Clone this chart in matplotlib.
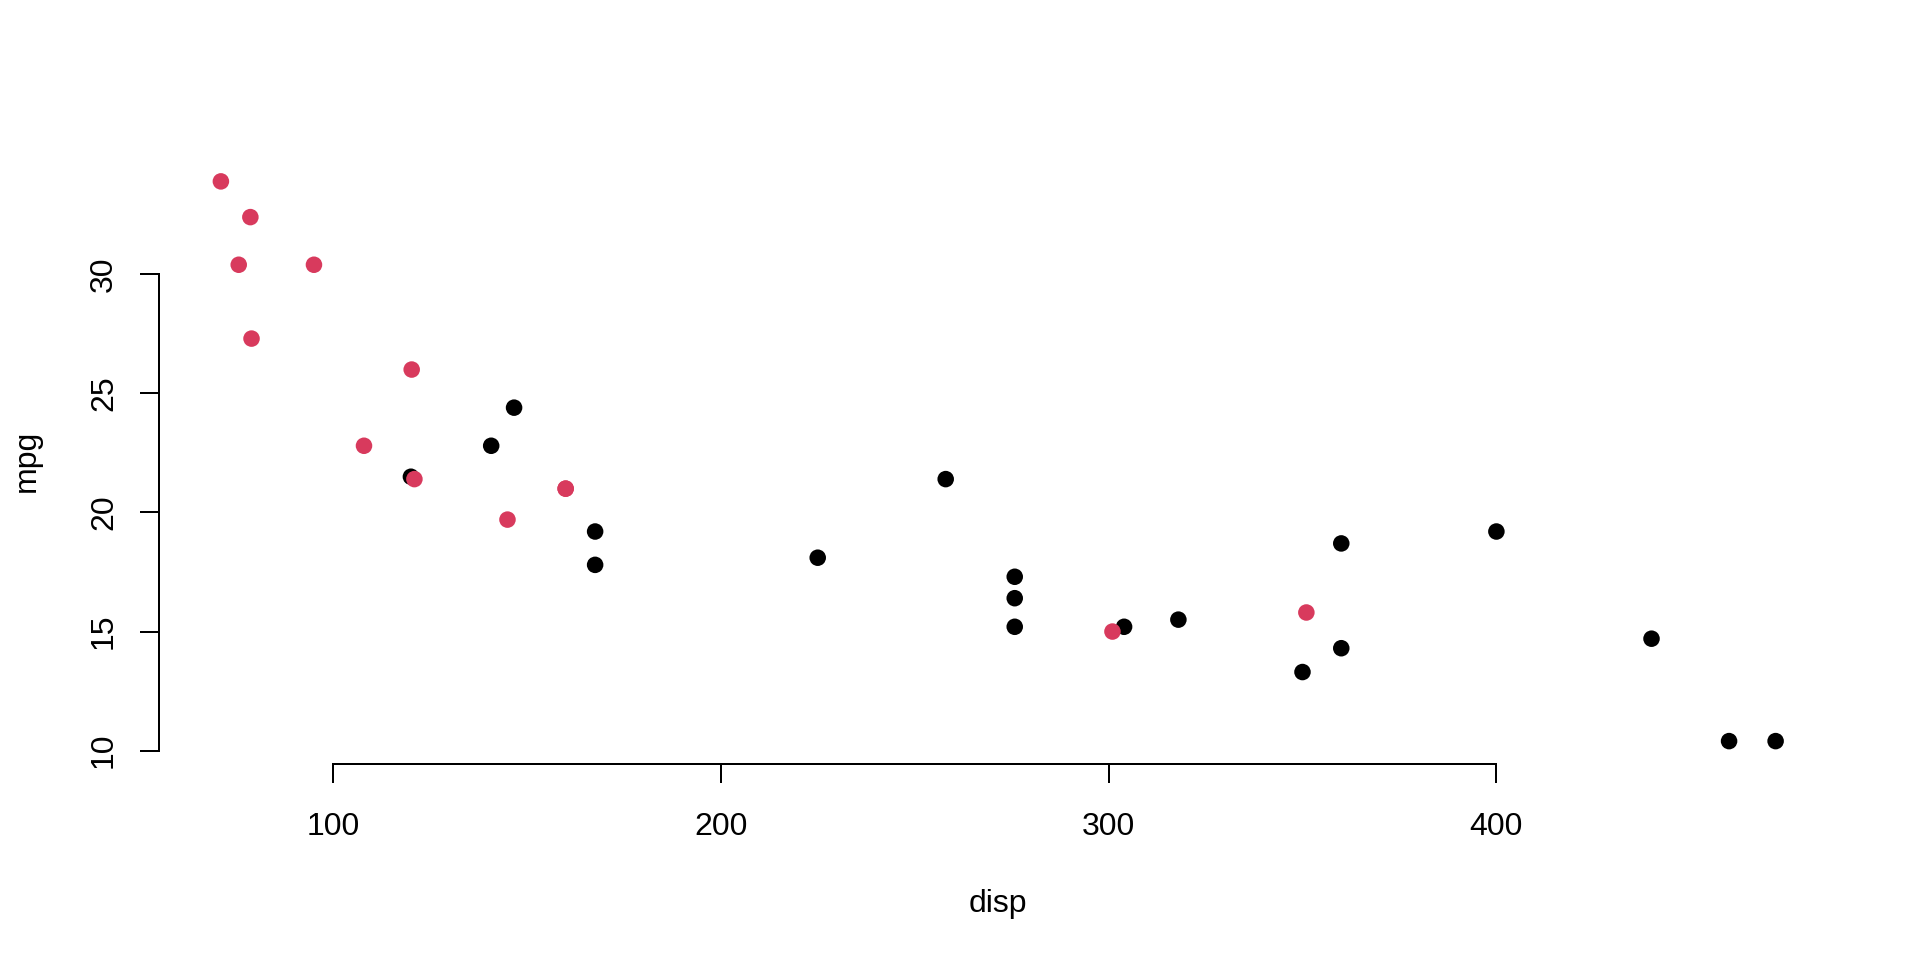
"""Dispersión mpg vs disp (mtcars), coloreada por tipo de transmisión."""

import matplotlib

matplotlib.use("Agg")
import matplotlib.pyplot as plt

# datos: disp, mpg y transmisión (am: 1 = manual)
disp = [160, 160, 108, 258, 360, 225, 360, 146.7, 140.8, 167.6, 167.6,
        275.8, 275.8, 275.8, 472, 460, 440, 78.7, 75.7, 71.1, 120.1,
        318, 304, 350, 400, 79, 120.3, 95.1, 351, 145, 301, 121]
mpg = [21.0, 21.0, 22.8, 21.4, 18.7, 18.1, 14.3, 24.4, 22.8, 19.2, 17.8,
       16.4, 17.3, 15.2, 10.4, 10.4, 14.7, 32.4, 30.4, 33.9, 21.5,
       15.5, 15.2, 13.3, 19.2, 27.3, 26.0, 30.4, 15.8, 19.7, 15.0, 21.4]
am = [1, 1, 1, 0, 0, 0, 0, 0, 0, 0, 0,
      0, 0, 0, 0, 0, 0, 1, 1, 1, 0,
      0, 0, 0, 0, 1, 1, 1, 1, 1, 1, 1]
x_ticks = [100, 200, 300, 400]
y_ticks = [10, 15, 20, 25, 30]

COLORES = {0: "black", 1: "#D83A5D"}
W, H = 1920, 960

plt.rcParams["font.family"] = ["Liberation Sans", "DejaVu Sans"]
plt.rcParams["font.size"] = 12

fig = plt.figure(figsize=(W / 192, H / 192), dpi=192)
ax = fig.add_axes([158.7 / W, 196.5 / H, (1837.8 - 158.7) / W, (763.5 - 159.0) / H])

colores = [COLORES[a] for a in am]
ax.scatter(disp, mpg, s=6.2 ** 2, c=colores, linewidths=0, zorder=3)

# rango estilo R: 4% de extensión a cada lado
rx = max(disp) - min(disp)
ry = max(mpg) - min(mpg)
ax.set_xlim(min(disp) - 0.04 * rx, max(disp) + 0.04 * rx)
ax.set_ylim(min(mpg) - 0.04 * ry, max(mpg) + 0.04 * ry)

ax.set_xticks(x_ticks)
ax.set_yticks(y_ticks)
ax.set_xticklabels([str(t) for t in x_ticks])
ax.set_yticklabels([str(t) for t in y_ticks], rotation=90, va="center", ha="right")

for lado in ("top", "right"):
    ax.spines[lado].set_visible(False)
ax.spines["bottom"].set_bounds(x_ticks[0], x_ticks[-1])
ax.spines["left"].set_bounds(y_ticks[0], y_ticks[-1])
for lado in ("bottom", "left"):
    ax.spines[lado].set_linewidth(0.75)

ax.tick_params(axis="x", length=7.2, width=0.75, pad=10.9, labelsize=12)
ax.tick_params(axis="y", length=7.2, width=0.75, pad=7.7, labelsize=12)

fig.text(998 / W, 1 - 911.7 / H, "disp", ha="center", va="baseline", fontsize=12)
fig.text(35 / W, 1 - 461 / H, "mpg", ha="center", va="baseline",
         rotation=90, rotation_mode="anchor", fontsize=12)

fig.savefig("out.png", dpi=192)
